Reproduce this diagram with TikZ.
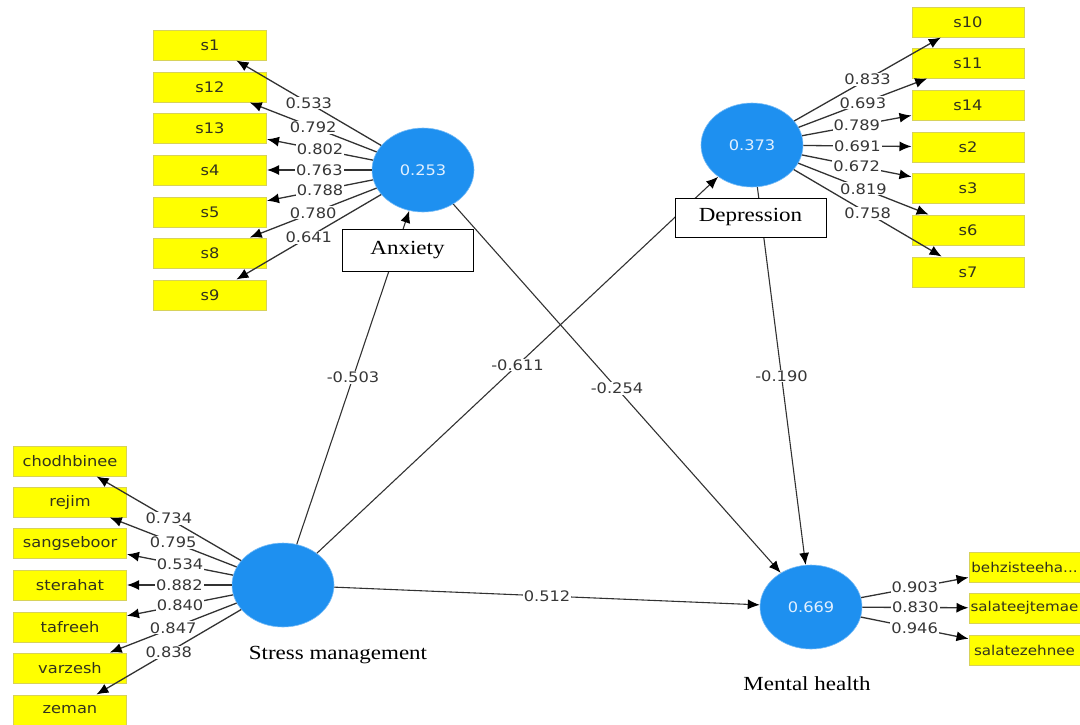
\documentclass[tikz,border=0pt]{standalone}
\usepackage{fontspec}
\usetikzlibrary{shapes.geometric,arrows.meta}
\newfontfamily\numfont[FakeStretch=1.12]{DejaVu Sans}
\newfontfamily\serfont[FakeStretch=1.15]{Liberation Serif}
\definecolor{lvblue}{RGB}{30,144,240}
\definecolor{boxyel}{RGB}{255,255,0}
\definecolor{boxedge}{RGB}{215,210,90}
\definecolor{boxtxt}{RGB}{50,50,30}
\definecolor{labgray}{RGB}{55,55,55}
\definecolor{linegray}{RGB}{50,50,50}
\tikzset{
  lv/.style={ellipse, fill=lvblue, draw=lvblue!60, line width=0.6pt, minimum width=102pt, minimum height=84pt, inner sep=0pt, text={rgb,255:red,225;green,240;blue,255}, font=\numfont\fontsize{14.5}{16}\selectfont},
  ind/.style={rectangle, fill=boxyel, draw=boxedge, line width=1pt, minimum width=113pt, minimum height=30pt, inner sep=0pt, text=boxtxt, font=\numfont\fontsize{14.5}{16}\selectfont},
  arr/.style={draw=linegray, line width=1.3pt, -{Latex[length=12pt,width=10pt,fill=black,color=black]}},
  sarr/.style={draw=linegray, line width=1.1pt, -{Latex[length=12pt,width=10pt,fill=black,color=black]}},
  lab/.style={fill=white, inner sep=1pt, text=labgray, font=\numfont\fontsize{14.5}{16}\selectfont},
  namebox/.style={rectangle, draw=black, fill=white, line width=0.9pt, inner sep=0pt, font=\serfont\fontsize{20}{22}\selectfont},
  nametxt/.style={inner sep=0pt, font=\serfont\fontsize{20}{22}\selectfont}
}
\begin{document}
\begin{tikzpicture}[x=1pt,y=-1pt]
\useasboundingbox (0,0) rectangle (1080,724);
% latent variables
\node[lv] (anx) at (423,170) {0.253};
\node[lv] (dep) at (752,145) {0.373};
\node[lv] (str) at (283,585) {};
\node[lv] (men) at (811,607) {0.669};
% anxiety indicators
\node[ind] (s1) at (210,45) {s1};
\node[ind] (s12) at (210,87) {s12};
\node[ind] (s13) at (210,128) {s13};
\node[ind] (s4) at (210,170) {s4};
\node[ind] (s5) at (210,212) {s5};
\node[ind] (s8) at (210,253) {s8};
\node[ind] (s9) at (210,295) {s9};
% depression indicators
\node[ind, minimum width=112pt] (s10) at (968,22) {s10};
\node[ind, minimum width=112pt] (s11) at (968,63) {s11};
\node[ind, minimum width=112pt] (s14) at (968,105) {s14};
\node[ind, minimum width=112pt] (s2) at (968,147) {s2};
\node[ind, minimum width=112pt] (s3) at (968,188) {s3};
\node[ind, minimum width=112pt] (s6) at (968,230) {s6};
\node[ind, minimum width=112pt] (s7) at (968,272) {s7};
% stress indicators
\node[ind] (chod) at (70,461) {chodhbinee};
\node[ind] (rej) at (70,502) {rejim};
\node[ind] (sang) at (70,543) {sangseboor};
\node[ind] (ster) at (70,585) {sterahat};
\node[ind] (taf) at (70,627) {tafreeh};
\node[ind] (varz) at (70,668) {varzesh};
\node[ind] (zem) at (70,710) {zeman};
% mental health indicators
\node[ind, minimum width=111pt, font=\numfont\fontsize{13.5}{16}\selectfont] (beh) at (1024.5,567) {behzisteeha...};
\node[ind, minimum width=111pt, font=\numfont\fontsize{13.5}{16}\selectfont] (sej) at (1024.5,608) {salateejtemae};
\node[ind, minimum width=111pt, font=\numfont\fontsize{13.5}{16}\selectfont] (sze) at (1024.5,650) {salatezehnee};
% outer loadings
\draw[arr] (anx) -- node[lab]{0.533} (s1);
\draw[arr] (anx) -- node[lab]{0.792} (s12);
\draw[arr] (anx) -- node[lab]{0.802} (s13);
\draw[arr] (anx) -- node[lab]{0.763} (s4);
\draw[arr] (anx) -- node[lab]{0.788} (s5);
\draw[arr] (anx) -- node[lab]{0.780} (s8);
\draw[arr] (anx) -- node[lab]{0.641} (s9);
\draw[arr] (dep) -- node[lab]{0.833} (s10);
\draw[arr] (dep) -- node[lab]{0.693} (s11);
\draw[arr] (dep) -- node[lab]{0.789} (s14);
\draw[arr] (dep) -- node[lab]{0.691} (s2);
\draw[arr] (dep) -- node[lab]{0.672} (s3);
\draw[arr] (dep) -- node[lab]{0.819} (s6);
\draw[arr] (dep) -- node[lab]{0.758} (s7);
\draw[arr] (str) -- node[lab]{0.734} (chod);
\draw[arr] (str) -- node[lab]{0.795} (rej);
\draw[arr] (str) -- node[lab]{0.534} (sang);
\draw[arr] (str) -- node[lab]{0.882} (ster);
\draw[arr] (str) -- node[lab]{0.840} (taf);
\draw[arr] (str) -- node[lab]{0.847} (varz);
\draw[arr] (str) -- node[lab]{0.838} (zem);
\draw[arr] (men) -- node[lab]{0.903} (beh);
\draw[arr] (men) -- node[lab]{0.830} (sej);
\draw[arr] (men) -- node[lab]{0.946} (sze);
% structural paths
\draw[sarr] (str) -- node[lab]{-0.503} (anx);
\draw[sarr] (str) -- node[lab]{-0.611} (dep);
\draw[sarr] (anx) -- node[lab]{-0.254} (men);
\draw[sarr] (dep) -- node[lab]{-0.190} (men);
\draw[sarr] (str) -- node[lab]{0.512} (men);
% construct names
\node[namebox, minimum width=131pt, minimum height=42pt] (anxname) at (407.5,250) {Anxiety};
\node[namebox, minimum width=151pt, minimum height=39pt] (depname) at (750.5,217.5) {Depression};
\node[nametxt] (strname) at (338,655) {Stress management};
\node[nametxt] (menname) at (807,684) {Mental health};
\end{tikzpicture}
\end{document}
